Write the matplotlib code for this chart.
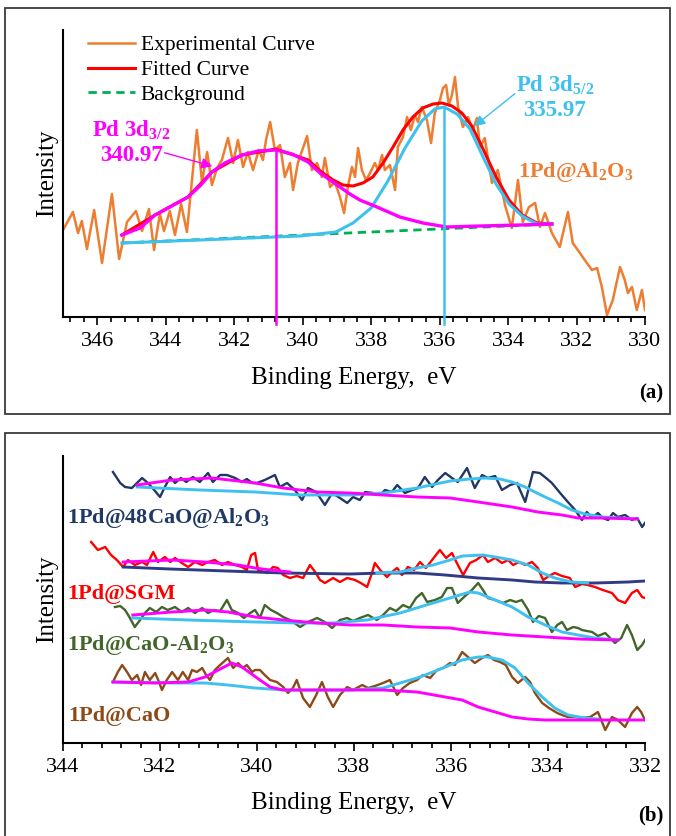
import matplotlib.pyplot as plt
from matplotlib.lines import Line2D
from matplotlib.patches import Rectangle
from matplotlib.ticker import MultipleLocator

plt.rcParams['font.family'] = ['Liberation Serif', 'DejaVu Serif']
plt.rcParams['mathtext.fontset'] = 'custom'
plt.rcParams['mathtext.rm'] = 'Liberation Serif'
plt.rcParams['mathtext.bf'] = 'Liberation Serif:bold'

# ---------------- panel (a): 1Pd@Al2O3 ----------------
a_exp_ev = [347.00, 346.71, 346.56, 346.45, 346.30, 346.09, 345.86, 345.57, 345.36, 345.13,
            344.87, 344.69, 344.49, 344.34, 344.17, 344.05, 343.88, 343.73, 343.55, 343.38,
            343.09, 342.94, 342.79, 342.65, 342.50, 342.36, 342.18, 342.03, 341.89, 341.74,
            341.60, 341.45, 341.28, 341.16, 341.07, 340.95, 340.81, 340.66, 340.52, 340.37,
            340.28, 340.14, 339.87, 339.73, 339.58, 339.44, 339.35, 339.20, 339.06, 338.91,
            338.79, 338.68, 338.56, 338.47, 338.38, 338.27, 338.15, 338.03, 337.89, 337.80,
            337.68, 337.60, 337.45, 337.30, 337.22, 337.07, 336.95, 336.84, 336.72, 336.63,
            336.52, 336.37, 336.25, 336.14, 335.99, 335.90, 335.81, 335.73, 335.64, 335.55,
            335.46, 335.32, 335.17, 335.03, 334.91, 334.82, 334.68, 334.47, 334.30, 334.09,
            333.89, 333.71, 333.57, 333.39, 333.21, 333.07, 332.92, 332.72, 332.49, 332.25,
            332.11, 331.90, 331.72, 331.55, 331.40, 331.26, 331.11, 330.94, 330.73, 330.59,
            330.50, 330.38, 330.24, 330.09, 330.00]
a_exp_int = [87, 105, 84, 96, 68, 107, 54, 123, 58, 95,
             106, 86, 108, 67, 103, 86, 106, 82, 113, 85,
             187, 135, 165, 132, 149, 157, 179, 154, 177, 150,
             165, 147, 167, 157, 177, 195, 167, 172, 140, 154,
             127, 154, 181, 147, 154, 140, 159, 130, 135, 120,
             104, 130, 150, 140, 169, 147, 137, 144, 154, 147,
             162, 147, 152, 127, 170, 180, 200, 187, 202, 195,
             210, 197, 174, 204, 217, 229, 232, 212, 222, 240,
             210, 190, 200, 187, 199, 170, 179, 134, 147, 112,
             89, 137, 95, 110, 114, 90, 104, 84, 70, 105,
             74, 64, 55, 47, 49, 30, 2, 17, 50, 37,
             24, 30, 7, 27, 7]

a_fit_ev = [345.28, 344.31, 343.35, 342.65, 341.77, 340.78, 339.84, 339.49, 339.11, 338.82,
            338.53, 338.24, 337.95, 337.65, 337.36, 337.07, 336.78, 336.49, 336.19, 335.93,
            335.64, 335.35, 335.06, 334.73, 334.35, 333.97, 333.59, 333.16, 332.72]
a_fit_int = [82, 102, 120, 145, 162, 168, 157, 146, 137, 132,
             131, 134, 140, 154, 170, 187, 200, 209, 213, 214,
             211, 204, 191, 168, 140, 117, 102, 94, 93]

a_p32_ev = [345.28, 344.75, 344.31, 343.88, 343.35, 343.00, 342.65, 342.27, 341.77, 341.30,
            340.78, 340.31, 339.84, 339.49, 339.20, 338.91, 338.62, 338.33, 337.83, 337.16,
            336.49, 335.79, 334.82, 333.65, 332.72]
a_p32_int = [82, 89, 102, 110, 120, 131, 145, 154, 162, 166,
             167, 163, 155, 144, 137, 130, 123, 117, 110, 100,
             94, 90, 91, 92, 93]

a_p52_ev = [345.28, 343.00, 341.54, 340.08, 339.03, 338.53, 338.00, 337.51, 337.01, 336.52,
            336.14, 335.87, 335.49, 335.11, 334.73, 334.35, 333.97, 333.59, 333.16, 332.72]
a_p52_int = [74, 77, 79, 81, 85, 94, 109, 136, 169, 196,
             208, 210, 203, 188, 160, 133, 113, 101, 93, 93]

a_bg_ev = [345.28, 332.72]
a_bg_int = [74, 93]

a_peaks = [340.78, 335.87]
a_peak_int = [167, 210]

# ---------------- panel (b): four catalysts ----------------
n48_exp_ev = [342.97, 342.82, 342.72, 342.58, 342.37, 342.25, 342.12, 342.00, 341.90, 341.79,
              341.69, 341.57, 341.46, 341.32, 341.18, 341.01, 340.91, 340.76, 340.62, 340.45,
              340.31, 340.21, 340.10, 340.00, 339.84, 339.63, 339.53, 339.38, 339.22, 339.07,
              338.95, 338.78, 338.60, 338.45, 338.29, 338.14, 338.02, 337.88, 337.77, 337.61,
              337.46, 337.36, 337.22, 337.11, 336.95, 336.80, 336.68, 336.54, 336.39, 336.27,
              336.12, 335.98, 335.86, 335.67, 335.51, 335.36, 335.24, 335.09, 334.95, 334.78,
              334.64, 334.47, 334.31, 334.17, 334.04, 333.92, 333.75, 333.59, 333.44, 333.30,
              333.20, 333.09, 332.97, 332.87, 332.76, 332.66, 332.56, 332.41, 332.27, 332.16,
              332.06, 332.00]
n48_exp_int = [271, 260, 256, 255, 265, 260, 253, 246, 256, 266,
               260, 265, 261, 266, 261, 270, 261, 268, 268, 265,
               261, 264, 260, 260, 263, 268, 256, 260, 253, 243,
               255, 251, 238, 250, 245, 240, 246, 243, 251, 250,
               248, 253, 251, 258, 250, 253, 255, 266, 256, 263,
               270, 265, 261, 275, 255, 268, 265, 267, 253, 258,
               260, 241, 271, 270, 265, 260, 250, 241, 233, 223,
               231, 225, 230, 225, 223, 230, 226, 228, 223, 225,
               216, 220]
n48_p52_ev = [342.47, 341.18, 340.04, 339.11, 338.08, 337.40, 336.70, 336.02, 335.61, 335.30,
              334.99, 334.74, 334.47, 334.27, 334.06, 333.79, 333.51, 333.24, 332.89, 332.52,
              332.16]
n48_p52_int = [256, 253, 251, 248, 248, 250, 255, 262, 264, 265,
               264, 261, 256, 251, 246, 240, 233, 229, 226, 225,
               224]
n48_p32_ev = [342.47, 341.75, 340.93, 340.39, 340.04, 339.46, 338.76, 338.08, 337.40, 336.70,
              336.02, 335.44, 334.74, 334.21, 333.71, 333.38, 332.89, 332.16]
n48_p32_int = [258, 263, 265, 262, 260, 255, 251, 250, 248, 246,
               245, 241, 236, 231, 228, 225, 225, 224]

sgm_exp_ev = [343.42, 343.28, 343.13, 343.01, 342.89, 342.76, 342.66, 342.52, 342.37, 342.27,
              342.14, 342.04, 341.90, 341.79, 341.69, 341.55, 341.42, 341.28, 341.13, 341.01,
              340.87, 340.72, 340.60, 340.45, 340.31, 340.21, 340.12, 340.04, 339.98, 339.79,
              339.67, 339.57, 339.46, 339.32, 339.18, 339.05, 338.91, 338.80, 338.70, 338.60,
              338.43, 338.29, 338.14, 337.98, 337.86, 337.73, 337.63, 337.57, 337.46, 337.32,
              337.22, 337.11, 337.01, 336.89, 336.76, 336.64, 336.52, 336.39, 336.23, 336.10,
              335.98, 335.88, 335.75, 335.61, 335.48, 335.34, 335.24, 335.09, 334.95, 334.82,
              334.72, 334.60, 334.47, 334.33, 334.21, 334.10, 333.98, 333.86, 333.71, 333.55,
              333.44, 333.30, 333.18, 333.03, 332.87, 332.68, 332.56, 332.41, 332.27, 332.16,
              332.06, 332.00]
sgm_exp_int = [201, 193, 196, 188, 183, 176, 183, 178, 181, 178,
               191, 181, 186, 181, 185, 180, 176, 181, 178, 181,
               183, 178, 181, 178, 176, 173, 188, 190, 173, 170,
               176, 175, 168, 165, 167, 165, 178, 171, 163, 160,
               165, 161, 165, 163, 160, 156, 170, 180, 173, 166,
               171, 175, 168, 176, 173, 181, 175, 183, 193, 185,
               190, 180, 168, 180, 183, 188, 181, 185, 180, 183,
               178, 181, 178, 181, 175, 163, 167, 170, 167, 165,
               156, 159, 158, 156, 153, 150, 143, 140, 150, 153,
               146, 145]
sgm_base_ev = [342.76, 341.79, 340.04, 339.46, 338.08, 337.40, 336.70, 336.12, 335.44, 334.74,
               334.27, 333.71, 333.03, 332.35, 332.00]
sgm_base_int = [176, 174, 171, 170, 169, 170, 170, 168, 165, 163,
                161, 160, 160, 161, 162]
sgm_p32_ev = [342.76, 341.75, 341.07, 340.39, 340.04, 339.73, 339.32]
sgm_p32_int = [181, 183, 181, 178, 175, 173, 171]
sgm_p52_ev = [337.53, 337.05, 336.70, 336.37, 336.02, 335.77, 335.34, 335.09, 334.74, 334.41,
              334.12, 333.86, 333.51, 333.18]
sgm_p52_int = [170, 171, 175, 178, 183, 187, 188, 186, 183, 178,
               170, 165, 161, 160]

cal_exp_ev = [342.93, 342.82, 342.72, 342.62, 342.52, 342.41, 342.31, 342.21, 342.08, 341.96,
              341.84, 341.69, 341.55, 341.42, 341.28, 341.13, 341.01, 340.89, 340.76, 340.62,
              340.52, 340.39, 340.27, 340.14, 340.04, 339.94, 339.84, 339.71, 339.59, 339.46,
              339.32, 339.11, 338.95, 338.76, 338.60, 338.45, 338.29, 338.14, 338.02, 337.88,
              337.71, 337.53, 337.40, 337.26, 337.13, 336.99, 336.85, 336.72, 336.60, 336.49,
              336.33, 336.19, 336.08, 335.98, 335.86, 335.71, 335.57, 335.44, 335.34, 335.24,
              335.09, 334.93, 334.78, 334.66, 334.54, 334.41, 334.31, 334.19, 334.06, 333.92,
              333.81, 333.71, 333.61, 333.48, 333.38, 333.30, 333.09, 332.97, 332.82, 332.72,
              332.62, 332.49, 332.37, 332.27, 332.16, 332.06, 332.00]
cal_exp_int = [136, 137, 133, 125, 116, 123, 130, 135, 131, 136,
               133, 136, 131, 135, 130, 135, 130, 133, 132, 143,
               133, 130, 125, 130, 133, 125, 138, 133, 130, 126,
               123, 116, 121, 125, 121, 115, 123, 125, 122, 125,
               128, 123, 128, 135, 132, 138, 135, 145, 150, 141,
               143, 146, 155, 155, 140, 147, 153, 160, 153, 145,
               143, 140, 143, 141, 143, 133, 121, 127, 125, 111,
               118, 121, 113, 116, 115, 113, 111, 107, 110, 105,
               100, 105, 118, 108, 93, 98, 103]
cal_p52_ev = [342.56, 341.42, 340.04, 339.11, 338.43, 337.73, 337.05, 336.37, 336.02, 335.61,
              335.44, 334.74, 334.41, 334.06, 333.71, 333.38, 333.03, 332.56]
cal_p52_int = [125, 123, 121, 120, 120, 123, 130, 140, 145, 151,
               150, 136, 126, 118, 111, 108, 105, 103]
cal_p32_ev = [342.56, 341.75, 341.07, 340.60, 340.04, 339.46, 338.76, 338.08, 337.40, 336.70,
              336.02, 335.44, 334.74, 334.06, 333.38, 332.56]
cal_p32_int = [128, 131, 133, 131, 126, 123, 120, 118, 118, 116,
               115, 111, 108, 106, 104, 103]

cao_exp_ev = [342.97, 342.87, 342.78, 342.68, 342.58, 342.47, 342.39, 342.31, 342.21, 342.10,
              342.02, 341.96, 341.86, 341.75, 341.63, 341.53, 341.42, 341.34, 341.24, 341.13,
              341.05, 340.97, 340.87, 340.76, 340.60, 340.49, 340.39, 340.29, 340.21, 340.10,
              340.04, 339.94, 339.84, 339.73, 339.59, 339.46, 339.36, 339.26, 339.18, 339.05,
              338.91, 338.78, 338.66, 338.54, 338.43, 338.29, 338.14, 338.02, 337.83, 337.71,
              337.57, 337.40, 337.26, 337.11, 336.99, 336.85, 336.70, 336.58, 336.43, 336.29,
              336.16, 336.02, 335.92, 335.77, 335.65, 335.51, 335.36, 335.24, 335.11, 334.99,
              334.87, 334.74, 334.62, 334.47, 334.37, 334.27, 334.12, 333.98, 333.81, 333.71,
              333.59, 333.44, 333.30, 333.13, 332.97, 332.82, 332.68, 332.56, 332.41, 332.27,
              332.16, 332.08, 332.00]
cao_exp_int = [61, 71, 78, 71, 63, 68, 58, 71, 63, 70,
               61, 53, 63, 71, 63, 71, 63, 73, 71, 75,
               68, 63, 73, 78, 85, 75, 80, 75, 78, 71,
               73, 73, 68, 63, 61, 56, 50, 55, 63, 45,
               36, 48, 61, 46, 36, 48, 56, 53, 58, 55,
               57, 60, 63, 48, 55, 60, 63, 68, 65, 73,
               75, 80, 78, 91, 86, 80, 85, 88, 83, 81,
               78, 66, 60, 66, 61, 50, 40, 35, 30, 28,
               26, 26, 25, 26, 31, 13, 26, 23, 16, 30,
               36, 31, 23]
cao_p52_ev = [342.97, 341.75, 341.07, 340.60, 340.04, 339.46, 338.76, 338.08, 337.40, 337.05,
              336.70, 336.37, 336.02, 335.77, 335.44, 335.24, 334.95, 334.68, 334.41, 334.12,
              333.86, 333.59, 333.24, 332.97]
cao_p52_int = [61, 60, 60, 58, 55, 53, 53, 53, 55, 60,
               65, 71, 78, 83, 86, 86, 83, 75, 60, 46,
               35, 28, 25, 24]
cao_p32_ev = [342.97, 342.10, 341.42, 341.07, 340.72, 340.52, 340.31, 340.14, 339.94, 339.73,
              339.46, 338.76, 338.08, 337.40, 336.70, 336.12, 335.77, 335.44, 335.09, 334.74,
              334.41, 334.06, 333.38, 332.68, 332.00]
cao_p32_int = [61, 60, 61, 66, 75, 80, 76, 70, 63, 56,
               53, 53, 53, 53, 51, 46, 43, 36, 31, 26,
               24, 23, 23, 23, 23]

ORANGE = '#ED7D31'
RED = '#FF0000'
GREEN_BG = '#00B050'
CYAN = '#3EC1EE'
MAGENTA = '#FF00FF'
NAVY = '#203864'
NAVY2 = '#2F3B84'
OLIVE = '#42652A'
BROWN = '#8C4A17'

fig = plt.figure(figsize=(6.76, 8.36), dpi=100)
ax1 = fig.add_axes([63 / 676, 1 - 317 / 836, 582 / 676, 287 / 836])
ax2 = fig.add_axes([63 / 676, 1 - 743 / 836, 582 / 676, 287 / 836])

for r in ([5 / 676, 1 - 414 / 836, 665 / 676, 406 / 836],
          [5 / 676, -0.02, 665 / 676, 1 - 433 / 836 + 0.02]):
    fig.add_artist(Rectangle((r[0], r[1]), r[2], r[3], transform=fig.transFigure,
                             fill=False, edgecolor='#3A3A3A', linewidth=1.3))


def style(ax, lo, hi):
    ax.set_xlim(hi, lo)
    ax.set_ylim(0, 287)
    ax.set_yticks([])
    ax.spines[['top', 'right']].set_visible(False)
    for s in ('left', 'bottom'):
        ax.spines[s].set_linewidth(1.5)
    ax.xaxis.set_major_locator(MultipleLocator(2))
    ax.xaxis.set_minor_locator(MultipleLocator(0.4))
    ax.tick_params(axis='x', which='major', length=6, width=1.2, pad=5, labelsize=16)
    ax.tick_params(axis='x', which='minor', length=3.5, width=1.2)


# ---- panel (a)
style(ax1, 330, 347)
ax1.plot(a_exp_ev, a_exp_int, color=ORANGE, lw=1.8, zorder=2, solid_joinstyle='round')
ax1.plot(a_bg_ev, a_bg_int, color=GREEN_BG, lw=2, ls=(0, (3, 2)), zorder=3)
ax1.plot(a_fit_ev, a_fit_int, color=RED, lw=2.2, zorder=4, solid_joinstyle='round')
ax1.plot(a_p52_ev, a_p52_int, color=CYAN, lw=2.2, zorder=5, solid_joinstyle='round')
ax1.plot(a_p32_ev, a_p32_int, color=MAGENTA, lw=2.4, zorder=6, solid_joinstyle='round')
ax1.plot([a_peaks[0], a_peaks[0]], [a_peak_int[0], -7], color=MAGENTA, lw=1.8,
         zorder=7, clip_on=False)
ax1.plot([a_peaks[1], a_peaks[1]], [a_peak_int[1], -7], color=CYAN, lw=1.8,
         zorder=7, clip_on=False)

handles = [Line2D([], [], color=ORANGE, lw=1.8),
           Line2D([], [], color=RED, lw=2.2),
           Line2D([], [], color=GREEN_BG, lw=2, ls=(0, (3, 2)))]
ax1.legend(handles, ['Experimental Curve', 'Fitted Curve', 'Background'],
           loc='upper left', bbox_to_anchor=(0.043, 0.982), frameon=False, fontsize=15.5,
           handlelength=2.2, handletextpad=0.25, labelspacing=0.22, borderpad=0,
           borderaxespad=0)

ax1.text(0.117, 0.652, r'Pd 3d$_{\mathbf{3/2}}$', transform=ax1.transAxes, color=MAGENTA,
         fontsize=16.5, fontweight='bold', ha='center', va='center')
ax1.text(0.117, 0.564, '340.97', transform=ax1.transAxes, color=MAGENTA,
         fontsize=16.5, fontweight='bold', ha='center', va='center')
ax1.annotate('', xy=(342.56, 150), xytext=(344.11, 165),
             arrowprops=dict(arrowstyle='-|>', color=MAGENTA, lw=1, mutation_scale=16))
ax1.text(0.845, 0.808, r'Pd 3d$_{\mathbf{5/2}}$', transform=ax1.transAxes, color=CYAN,
         fontsize=16.5, fontweight='bold', ha='center', va='center')
ax1.text(0.845, 0.721, '335.97', transform=ax1.transAxes, color=CYAN,
         fontsize=16.5, fontweight='bold', ha='center', va='center')
ax1.annotate('', xy=(335.05, 189), xytext=(333.74, 225),
             arrowprops=dict(arrowstyle='-|>', color=CYAN, lw=1, mutation_scale=16))
ax1.text(0.881, 0.505, r'1Pd@Al$_\mathbf{2}$O$_\mathbf{3}$', transform=ax1.transAxes,
         color=ORANGE, fontsize=16, fontweight='bold', ha='center', va='center')

# ---- panel (b)
style(ax2, 332, 344)
series = [
    (n48_exp_ev, n48_exp_int, NAVY, n48_p52_ev, n48_p52_int, n48_p32_ev, n48_p32_int),
    (cal_exp_ev, cal_exp_int, OLIVE, cal_p52_ev, cal_p52_int, cal_p32_ev, cal_p32_int),
    (cao_exp_ev, cao_exp_int, BROWN, cao_p52_ev, cao_p52_int, cao_p32_ev, cao_p32_int),
]
for ev, it, col, cev, cit, mev, mit in series:
    ax2.plot(ev, it, color=col, lw=1.7, zorder=2, solid_joinstyle='round')
    ax2.plot(cev, cit, color=CYAN, lw=2.1, zorder=3, solid_joinstyle='round')
    ax2.plot(mev, mit, color=MAGENTA, lw=2.1, zorder=4, solid_joinstyle='round')

ax2.plot(sgm_exp_ev, sgm_exp_int, color=RED, lw=1.7, zorder=2, solid_joinstyle='round')
ax2.plot(sgm_base_ev, sgm_base_int, color=NAVY2, lw=2.1, zorder=3)
ax2.plot(sgm_p52_ev, sgm_p52_int, color=CYAN, lw=2.1, zorder=4, solid_joinstyle='round')
ax2.plot(sgm_p32_ev, sgm_p32_int, color=MAGENTA, lw=2.1, zorder=4)

ax2.text(0.007, 0.784, r'1Pd@48CaO@Al$_\mathbf{2}$O$_\mathbf{3}$', transform=ax2.transAxes,
         color=NAVY, fontsize=16, fontweight='bold', ha='left', va='center')
ax2.text(0.007, 0.518, '1Pd@SGM', transform=ax2.transAxes,
         color=RED, fontsize=16, fontweight='bold', ha='left', va='center')
ax2.text(0.007, 0.341, r'1Pd@CaO-Al$_\mathbf{2}$O$_\mathbf{3}$', transform=ax2.transAxes,
         color=OLIVE, fontsize=16, fontweight='bold', ha='left', va='center')
ax2.text(0.009, 0.094, '1Pd@CaO', transform=ax2.transAxes,
         color=BROWN, fontsize=16, fontweight='bold', ha='left', va='center')

# ---- shared labels
for yc in (1 - 173.5 / 836, 1 - 599.5 / 836):
    fig.text(47 / 676, yc, 'Intensity', rotation=90, fontsize=18, ha='center', va='center')
fig.text(354 / 676, 1 - 378 / 836, 'Binding Energy,  eV', fontsize=18, ha='center', va='center')
fig.text(354 / 676, 1 - 803 / 836, 'Binding Energy,  eV', fontsize=18, ha='center', va='center')
fig.text(651 / 676, 1 - 393 / 836, '(a)', fontsize=15, fontweight='bold', ha='center', va='center')
fig.text(651 / 676, 1 - 815 / 836, '(b)', fontsize=15, fontweight='bold', ha='center', va='center')

fig.savefig('out.png', dpi=100, facecolor='white')
